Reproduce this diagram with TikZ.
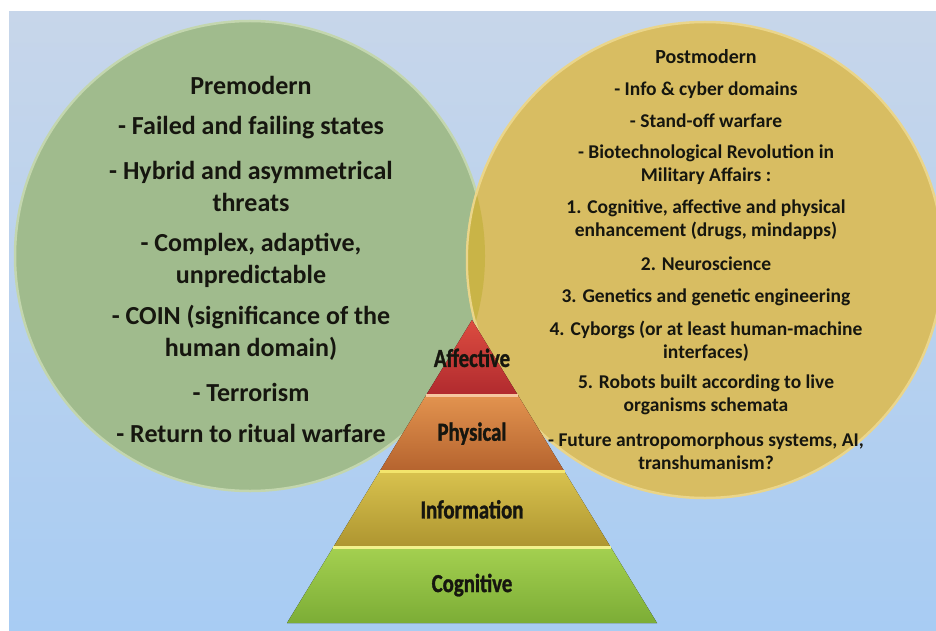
\documentclass[tikz,border=0pt]{standalone}
\usepackage{fontspec}
\setmainfont{Carlito}
\newfontfamily\pyrfont[FakeStretch=0.8,FakeBold=1.2]{Carlito}
\usetikzlibrary{calc}

\definecolor{skytop}{HTML}{C7D6EA}
\definecolor{skybot}{HTML}{A8CCF3}
\definecolor{sage}{HTML}{A0BB8D}
\definecolor{sagerim}{HTML}{C3D6AE}
\definecolor{sand}{HTML}{D8BD62}
\definecolor{sandrim}{HTML}{EAD58A}
\definecolor{lens}{HTML}{C9B447}
\definecolor{ink}{HTML}{16160F}
\definecolor{aff1}{HTML}{DC4C40}
\definecolor{aff2}{HTML}{B02A2E}
\definecolor{phy1}{HTML}{E2934F}
\definecolor{phy2}{HTML}{B5632E}
\definecolor{inf1}{HTML}{D8C24E}
\definecolor{inf2}{HTML}{AE9530}
\definecolor{cog1}{HTML}{A4D050}
\definecolor{cog2}{HTML}{7CAD36}
\definecolor{sepA}{HTML}{F6C8A0}
\definecolor{sepB}{HTML}{F3E56C}
\definecolor{sepC}{HTML}{F2F28C}

\begin{document}
\begin{tikzpicture}[x=1pt,y=-1pt,
	premod/.style={fill=sage,draw=sagerim,line width=2.5pt},
	postmod/.style={fill=sand,draw=sandrim,line width=2.5pt},
	lefttxt/.style={font=\fontsize{26}{32}\selectfont\bfseries,align=center,text=ink},
	righttxt/.style={font=\fontsize{19.5}{23}\selectfont\bfseries,align=center,text=ink},
	layer/.style={font=\pyrfont\fontsize{26}{26}\selectfont\bfseries,text=ink}]

\useasboundingbox (0,0) rectangle (936,631);
\fill[top color=skytop,bottom color=skybot] (9,12) rectangle (936,631);

\begin{scope}
\clip (9,12) rectangle (936,631);
\coordinate (pc) at (250,256);
\coordinate (qc) at (705,260);
\draw[premod] (pc) circle (235pt);
\draw[postmod] (qc) circle (238pt);
% overlap of the two circles
\begin{scope}
\clip (pc) circle (235pt);
\draw[fill=lens,draw=sandrim,line width=2pt] (qc) circle (238pt);
\end{scope}
\end{scope}

% left circle
\node[lefttxt] (pretitle) at (251,85)  {Premodern};
\node[lefttxt] (pre1)     at (251,128) {- Failed and failing states};
\node[lefttxt] (pre2)     at (251,186) {- Hybrid and asymmetrical\\threats};
\node[lefttxt] (pre3)     at (251,260) {- Complex, adaptive,\\unpredictable};
\node[lefttxt] (pre4)     at (251,333) {- COIN (significance of the\\human domain)};
\node[lefttxt] (pre5)     at (251,392) {- Terrorism};
\node[lefttxt] (pre6)     at (251,433) {- Return to ritual warfare};

% right circle
\node[righttxt,font=\fontsize{20}{23}\selectfont\bfseries] (posttitle) at (706,57) {Postmodern};
\node[righttxt] (post1) at (706,90)    {- Info \& cyber domains};
\node[righttxt] (post2) at (706,121)   {- Stand-off warfare};
\node[righttxt] (post3) at (706,164.5) {- Biotechnological Revolution in\\Military Affairs :};
\node[righttxt] (post4) at (706,219.5) {1. Cognitive, affective and physical\\enhancement (drugs, mindapps)};
\node[righttxt] (post5) at (706,264)   {2. Neuroscience};
\node[righttxt] (post6) at (706,297)   {3. Genetics and genetic engineering};
\node[righttxt] (post7) at (706,341.5) {4. Cyborgs (or at least human-machine\\interfaces)};
\node[righttxt] (post8) at (706,395)   {5. Robots built according to live\\organisms schemata};
\node[righttxt] (post9) at (706,451.5) {- Future antropomorphous systems, AI,\\transhumanism?};

% pyramid
\coordinate (apex) at (472,320);
\coordinate (bl) at (287,623);
\coordinate (br) at (657,623);
\foreach \i/\j/\c/\s/\lbl in {0/0.25/aff/sepA/Affective,0.25/0.5/phy/sepA/Physical,0.5/0.75/inf/sepB/Information,0.75/1/cog/sepC/Cognitive}{
	\fill[top color=\c1,bottom color=\c2] ($(apex)!\i!(bl)$) -- ($(apex)!\j!(bl)$) -- ($(apex)!\j!(br)$) -- ($(apex)!\i!(br)$) -- cycle;
	\ifdim\i pt>0pt
		\draw[\s,line width=3pt] ($(apex)!\i!(bl)$) -- ($(apex)!\i!(br)$);
	\fi
	\node[layer] (\c) at (472,{320+303*(\i+\j)/2}) {\lbl};
}
\end{tikzpicture}
\end{document}
